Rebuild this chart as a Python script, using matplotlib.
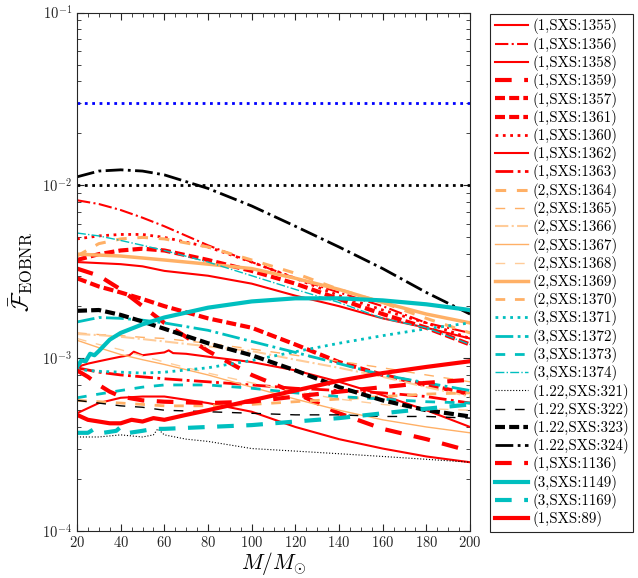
import matplotlib
matplotlib.use("Agg")
import matplotlib.pyplot as plt
from matplotlib.ticker import MultipleLocator

plt.rcParams["font.family"] = ["cmr10", "DejaVu Serif"]
plt.rcParams["mathtext.fontset"] = "cm"
plt.rcParams["axes.formatter.use_mathtext"] = True
plt.rcParams["axes.unicode_minus"] = False

# common mass grid (M / M_sun) used by most of the curves
m_grid = [20, 30, 40, 50, 60, 80, 100, 120, 140, 160, 180, 200]

f_1355 = [0.0036, 0.00355, 0.0035, 0.0034, 0.0032, 0.0030, 0.0027, 0.0023, 0.0020, 0.0017, 0.0015, 0.0013]
f_1356 = [0.0082, 0.0078, 0.0072, 0.0065, 0.0058, 0.0045, 0.0036, 0.0029, 0.0024, 0.0020, 0.0016, 0.0014]
m_1358 = [20, 25, 30, 35, 40, 44, 46, 50, 55, 60, 62, 64, 70, 80, 100, 120, 140, 160, 180, 200]
f_1358 = [0.00089, 0.00093, 0.00096, 0.00099, 0.00102, 0.00104, 0.00109, 0.00104, 0.00106, 0.00108,
          0.00111, 0.00107, 0.00106, 0.00102, 0.00095, 0.00085, 0.00073, 0.00061, 0.0005, 0.0004]
f_1359 = [0.0033, 0.0030, 0.0025, 0.0020, 0.0016, 0.0011, 0.0008, 0.00063, 0.00048, 0.00039, 0.00034, 0.00029]
f_1357 = [0.0037, 0.0040, 0.0042, 0.0043, 0.0042, 0.0037, 0.0032, 0.0027, 0.0022, 0.0018, 0.0015, 0.0012]
f_1361 = [0.0029, 0.0026, 0.0024, 0.0022, 0.0020, 0.0017, 0.0015, 0.0012, 0.00095, 0.0008, 0.0007, 0.00062]
f_1360 = [0.0049, 0.0051, 0.0052, 0.0052, 0.0050, 0.0044, 0.0036, 0.0029, 0.0023, 0.0019, 0.0016, 0.0013]
f_1362 = [0.00048, 0.00055, 0.00059, 0.0006, 0.0006, 0.00055, 0.00049, 0.0004, 0.00034, 0.0003, 0.00027, 0.00025]
f_1363 = [0.00088, 0.00083, 0.0008, 0.00078, 0.00076, 0.00073, 0.0007, 0.00067, 0.00065, 0.00063, 0.0006, 0.00055]
f_1364 = [0.0039, 0.0046, 0.0049, 0.0050, 0.0049, 0.0044, 0.0037, 0.0031, 0.0025, 0.0021, 0.0017, 0.0014]
f_1365 = [0.0014, 0.00137, 0.00135, 0.00132, 0.0013, 0.00122, 0.00113, 0.00104, 0.00096, 0.00088, 0.0008, 0.00073]
f_1366 = [0.00138, 0.00136, 0.00133, 0.00129, 0.00125, 0.00117, 0.0011, 0.00098, 0.00088, 0.00078, 0.00068, 0.0006]
f_1367 = [0.00127, 0.00115, 0.00105, 0.00098, 0.00092, 0.0008, 0.00068, 0.00058, 0.0005, 0.00044, 0.0004, 0.00037]
f_1368 = [0.0013, 0.0012, 0.00112, 0.00103, 0.00095, 0.00082, 0.00072, 0.00064, 0.00058, 0.00054, 0.00051, 0.0005]
f_1369 = [0.0040, 0.00395, 0.0039, 0.0038, 0.0037, 0.0035, 0.0033, 0.0029, 0.0025, 0.0021, 0.0018, 0.0016]
f_1370 = [0.00057, 0.00056, 0.00055, 0.00054, 0.00053, 0.00053, 0.00054, 0.00056, 0.00058, 0.0006, 0.00062, 0.00063]
f_1371 = [0.00086, 0.00084, 0.00083, 0.00082, 0.00083, 0.00088, 0.00097, 0.00109, 0.00122, 0.00135, 0.00148, 0.0016]
f_1372 = [0.00162, 0.00172, 0.0017, 0.00166, 0.0016, 0.00145, 0.00125, 0.00108, 0.00093, 0.0008, 0.00072, 0.00065]
f_1373 = [0.00059, 0.00062, 0.00065, 0.00068, 0.0007, 0.0007, 0.00067, 0.00063, 0.0006, 0.00058, 0.00056, 0.00055]
f_1374 = [0.0053, 0.0051, 0.0048, 0.0045, 0.0042, 0.0036, 0.0030, 0.0025, 0.0021, 0.0017, 0.0015, 0.0012]
m_321 = [20, 30, 40, 50, 55, 57, 60, 70, 80, 100, 120, 140, 160, 180, 200]
f_321 = [0.00035, 0.00035, 0.00036, 0.00035, 0.00036, 0.00039, 0.00036, 0.00034, 0.00033, 0.0003,
         0.00029, 0.00028, 0.00027, 0.00026, 0.00025]
f_322 = [0.00057, 0.00055, 0.00053, 0.00052, 0.0005, 0.00049, 0.00048, 0.00047, 0.00047, 0.00046, 0.00046, 0.00045]
f_323 = [0.00188, 0.0019, 0.00178, 0.00163, 0.00148, 0.00122, 0.00104, 0.00085, 0.00068, 0.00057, 0.0005, 0.00046]
f_324 = [0.0112, 0.0121, 0.0123, 0.0121, 0.0115, 0.0096, 0.0076, 0.0058, 0.0044, 0.0033, 0.0024, 0.0018]
m_1136 = [20, 25, 30, 35, 40, 50, 60, 80, 100, 120, 140, 160, 180, 200]
f_1136 = [0.00085, 0.00078, 0.0007, 0.00064, 0.0006, 0.00057, 0.00056, 0.00055, 0.00056, 0.0006,
          0.00064, 0.00068, 0.00072, 0.00075]
m_1149 = [20, 22, 24, 26, 28, 30, 35, 40, 50, 60, 80, 100, 120, 140, 160, 180, 200]
f_1149 = [0.00089, 0.00097, 0.00096, 0.00106, 0.00104, 0.0011, 0.00128, 0.0014, 0.00157, 0.00172,
          0.00196, 0.00213, 0.00222, 0.00222, 0.00216, 0.00205, 0.0019]
m_1169 = [20, 25, 28, 32, 38, 40, 44, 50, 55, 60, 80, 100, 120, 140, 160, 180, 200]
f_1169 = [0.00037, 0.00037, 0.00039, 0.00037, 0.00038, 0.0004, 0.00037, 0.00038, 0.00039, 0.00039,
          0.0004, 0.00041, 0.00043, 0.00045, 0.00048, 0.00051, 0.00054]
m_89 = [20, 25, 30, 35, 40, 45, 50, 55, 60, 70, 80, 100, 120, 140, 160, 180, 200]
f_89 = [0.00047, 0.00044, 0.00043, 0.00042, 0.00042, 0.00044, 0.00043, 0.00045, 0.00044, 0.00047,
        0.0005, 0.00057, 0.00065, 0.00074, 0.00082, 0.00089, 0.00096]

# horizontal reference levels
level_black = 0.01
level_blue = 0.03

RED = (1, 0, 0)
ORANGE = (1.0, 0.69, 0.4)
LIGHT_OR = (1.0, 0.8, 0.6)
CYAN = (0, 0.75, 0.75)

SHORT = (2.4, 1.0)
LONG_GAP = (4.0, 3.0)
MED = (3.5, 3.5)
THIN = (7.0, 7.0)

series = [
    ("(1,SXS:1355)", m_grid, f_1355, RED, "-", 1.5),
    ("(1,SXS:1356)", m_grid, f_1356, RED, "-.", 1.5),
    ("(1,SXS:1358)", m_1358, f_1358, RED, "-", 1.5),
    ("(1,SXS:1359)", m_grid, f_1359, RED, (0, LONG_GAP), 3),
    ("(1,SXS:1357)", m_grid, f_1357, RED, (0, SHORT), 3),
    ("(1,SXS:1361)", m_grid, f_1361, RED, (0, SHORT), 3),
    ("(1,SXS:1360)", m_grid, f_1360, RED, ":", 2),
    ("(1,SXS:1362)", m_grid, f_1362, RED, "-", 1.5),
    ("(1,SXS:1363)", m_grid, f_1363, RED, "-.", 2),
    ("(2,SXS:1364)", m_grid, f_1364, ORANGE, (0, MED), 2.2),
    ("(2,SXS:1365)", m_grid, f_1365, ORANGE, (0, THIN), 1),
    ("(2,SXS:1366)", m_grid, f_1366, LIGHT_OR, "-.", 1.5),
    ("(2,SXS:1367)", m_grid, f_1367, ORANGE, "-", 1),
    ("(2,SXS:1368)", m_grid, f_1368, LIGHT_OR, (0, THIN), 1),
    ("(2,SXS:1369)", m_grid, f_1369, ORANGE, "-", 2.5),
    ("(2,SXS:1370)", m_grid, f_1370, ORANGE, (0, MED), 2),
    ("(3,SXS:1371)", m_grid, f_1371, CYAN, ":", 2),
    ("(3,SXS:1372)", m_grid, f_1372, CYAN, "-.", 2),
    ("(3,SXS:1373)", m_grid, f_1373, CYAN, (0, MED), 2),
    ("(3,SXS:1374)", m_grid, f_1374, CYAN, "-.", 1),
    ("(1.22,SXS:321)", m_321, f_321, "black", ":", 0.8),
    ("(1.22,SXS:322)", m_grid, f_322, "black", (0, THIN), 1),
    ("(1.22,SXS:323)", m_grid, f_323, "black", (0, SHORT), 3),
    ("(1.22,SXS:324)", m_grid, f_324, "black", "-.", 2),
    ("(1,SXS:1136)", m_1136, f_1136, RED, (0, LONG_GAP), 3),
    ("(3,SXS:1149)", m_1149, f_1149, CYAN, "-", 3),
    ("(3,SXS:1169)", m_1169, f_1169, CYAN, (0, LONG_GAP), 3),
    ("(1,SXS:89)", m_89, f_89, RED, "-", 3),
]

fig = plt.figure(figsize=(6.38, 5.78), dpi=100)
ax = fig.add_axes([0.1207, 0.0813, 0.616, 0.897])

for label, m, f, color, ls, lw in series:
    ax.plot(m, f, color=color, linestyle=ls, linewidth=lw, label=label)

ax.axhline(level_black, color="black", linestyle=":", linewidth=2)
ax.axhline(level_blue, color="blue", linestyle=":", linewidth=2)

ax.set_yscale("log")
ax.set_xlim(20, 200)
ax.set_ylim(1e-4, 1e-1)
ax.set_xticks(range(20, 201, 20))
ax.xaxis.set_minor_locator(MultipleLocator(5))
ax.tick_params(which="both", direction="in", top=True, right=True,
               color="#262626", labelcolor="#262626", labelsize=10.5)
ax.tick_params(axis="x", which="major", pad=3)
ax.tick_params(which="major", length=5, width=0.8)
ax.tick_params(which="minor", length=3, width=0.6)
for sp in ax.spines.values():
    sp.set_color("#262626")
    sp.set_linewidth(0.8)

ax.set_xlabel(r"$M/M_{\odot}$", fontsize=15.5, labelpad=0)
ax.set_ylabel(r"$\bar{\mathcal{F}}_{\rm EOBNR}$", fontsize=17, labelpad=5)

leg = ax.legend(loc="upper left", bbox_to_anchor=(490 / 638, 1 - 14 / 578),
                bbox_transform=fig.transFigure, fontsize=10.8, frameon=True,
                fancybox=False, framealpha=1, edgecolor="#262626",
                handlelength=2.2, handletextpad=0.3, labelspacing=0.15,
                borderpad=0.3, borderaxespad=0)
leg.get_frame().set_linewidth(0.8)

fig.savefig("out.png", dpi=100)
